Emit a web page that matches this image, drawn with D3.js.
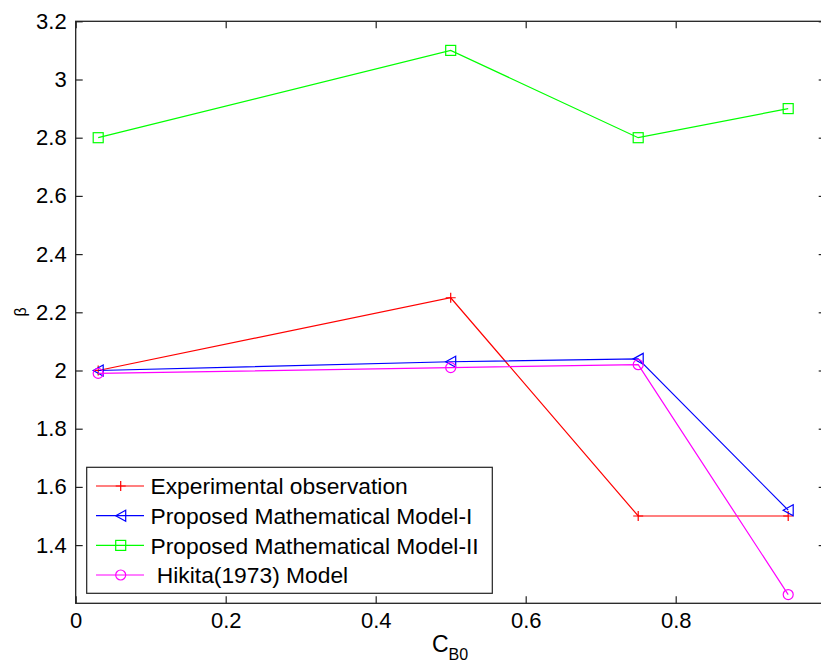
<!DOCTYPE html>
<html>
<head>
<meta charset="utf-8">
<script src="https://cdn.jsdelivr.net/npm/d3@7/dist/d3.min.js"></script>
<style>
  html, body { margin: 0; padding: 0; background: #fff; }
  svg { display: block; font-family: "Liberation Sans", Arial, Helvetica, sans-serif; }
</style>
</head>
<body>
<svg id="chart" width="821" height="666"></svg>
<script>
// ---- Data ----
const xValues = [0.03, 0.5, 0.75, 0.95];
const experimental = [2.0, 2.25, 1.5, 1.5];
const modelI = [2.0, 2.03, 2.04, 1.52];
const modelII = [2.8, 3.1, 2.8, 2.9];
const hikita = [1.99, 2.01, 2.02, 1.23];

const xTicks = [0, 0.2, 0.4, 0.6, 0.8, 1];
const xTickLabels = ["0", "0.2", "0.4", "0.6", "0.8", ""]; // "1" falls outside the cropped picture
const yTicks = [1.4, 1.6, 1.8, 2, 2.2, 2.4, 2.6, 2.8, 3, 3.2];

const seriesNames = ["Experimental observation", "Proposed Mathematical Model-I", "Proposed Mathematical Model-II", " Hikita(1973) Model"];
const seriesColors = ["#ff0000", "#0000ff", "#00ff00", "#ff00ff"];
const seriesMarkers = ["plus", "triangleLeft", "square", "circle"];
const seriesValues = [experimental, modelI, modelII, hikita];

// ---- Layout ----
const svg = d3.select("#chart");
const L = 75.7, R = 825.7, T = 21.3, B = 603.3;

const x = d3.scaleLinear().domain([0, 1]).range([L, R]);
const y = d3.scaleLinear().domain([1.2, 3.2]).range([B, T]);

const fmt = d => String(+d.toFixed(1));
const tickFont = 22;

// Axes (MATLAB style: inward ticks on all four sides)
const gB = svg.append("g").attr("transform", `translate(0,${B})`)
  .call(d3.axisBottom(x).tickValues(xTicks).tickSize(-7).tickSizeOuter(0).tickPadding(9)
    .tickFormat((d, i) => xTickLabels[i]));
const gL = svg.append("g").attr("transform", `translate(${L},0)`)
  .call(d3.axisLeft(y).tickValues(yTicks).tickSize(-7).tickSizeOuter(0).tickPadding(9).tickFormat(fmt));
const gT = svg.append("g").attr("transform", `translate(0,${T})`)
  .call(d3.axisTop(x).tickValues(xTicks).tickSize(-7).tickSizeOuter(0).tickFormat(""));
const gR = svg.append("g").attr("transform", `translate(${R},0)`)
  .call(d3.axisRight(y).tickValues(yTicks).tickSize(-7).tickSizeOuter(0).tickFormat(""));

[gB, gL, gT, gR].forEach(g => {
  g.select(".domain").remove();
  g.selectAll("line").attr("stroke", "#222").attr("stroke-width", 1.2);
  g.selectAll("text").attr("fill", "#000").style("font-size", tickFont + "px").style("font-family", "'Liberation Sans', Arial, sans-serif");
});
gB.selectAll("text").filter(function () { return this.textContent === ""; }).remove();

svg.append("rect").attr("x", L).attr("y", T).attr("width", R - L).attr("height", B - T)
  .attr("fill", "none").attr("stroke", "#222").attr("stroke-width", 1.3);

// Marker drawing
function drawMarker(g, type, cx, cy, color) {
  if (type === "plus") {
    g.append("path").attr("d", `M${cx - 5},${cy}H${cx + 5}M${cx},${cy - 5}V${cy + 5}`)
      .attr("stroke", color).attr("stroke-width", 1.2).attr("fill", "none");
  } else if (type === "triangleLeft") {
    g.append("path").attr("d", `M${cx - 5},${cy}L${cx + 5},${cy - 5.5}L${cx + 5},${cy + 5.5}Z`)
      .attr("stroke", color).attr("stroke-width", 1.2).attr("fill", "none");
  } else if (type === "square") {
    g.append("rect").attr("x", cx - 5).attr("y", cy - 5).attr("width", 10).attr("height", 10)
      .attr("stroke", color).attr("stroke-width", 1.2).attr("fill", "none");
  } else if (type === "circle") {
    g.append("circle").attr("cx", cx).attr("cy", cy).attr("r", 5)
      .attr("stroke", color).attr("stroke-width", 1.2).attr("fill", "none");
  }
}

// Series
const line = d3.line().x(d => x(d[0])).y(d => y(d[1]));
seriesValues.forEach((vals, i) => {
  const pts = xValues.map((xv, j) => [xv, vals[j]]);
  const g = svg.append("g");
  g.append("path").attr("d", line(pts)).attr("fill", "none")
    .attr("stroke", seriesColors[i]).attr("stroke-width", 1.2);
  pts.forEach(p => drawMarker(g, seriesMarkers[i], x(p[0]), y(p[1]), seriesColors[i]));
});

// Legend
const lg = svg.append("g");
lg.append("rect").attr("x", 86.7).attr("y", 467.3).attr("width", 405.6).attr("height", 126)
  .attr("fill", "#fff").attr("stroke", "#222").attr("stroke-width", 1.2);
const rowY = [486, 515.7, 545.4, 575];
seriesNames.forEach((name, i) => {
  const yy = rowY[i];
  lg.append("line").attr("x1", 96).attr("x2", 144).attr("y1", yy).attr("y2", yy)
    .attr("stroke", seriesColors[i]).attr("stroke-width", 1.2);
  drawMarker(lg, seriesMarkers[i], 120.7, yy, seriesColors[i]);
  lg.append("text").attr("x", 150.5).attr("y", yy).attr("dy", "0.36em")
    .style("font-size", "22.8px").style("white-space", "pre").attr("xml:space", "preserve")
    .attr("fill", "#000").text(name);
});

// Axis labels
const xl = svg.append("text").attr("x", 450).attr("y", 652).attr("text-anchor", "middle")
  .style("font-size", "23px").attr("fill", "#000");
xl.append("tspan").text("C");
xl.append("tspan").attr("dy", 8).style("font-size", "16px").text("B0");

svg.append("text").attr("transform", `translate(26,312) rotate(-90)`).attr("text-anchor", "middle")
  .style("font-size", "16px").attr("fill", "#000").text("β");
</script>
</body>
</html>
